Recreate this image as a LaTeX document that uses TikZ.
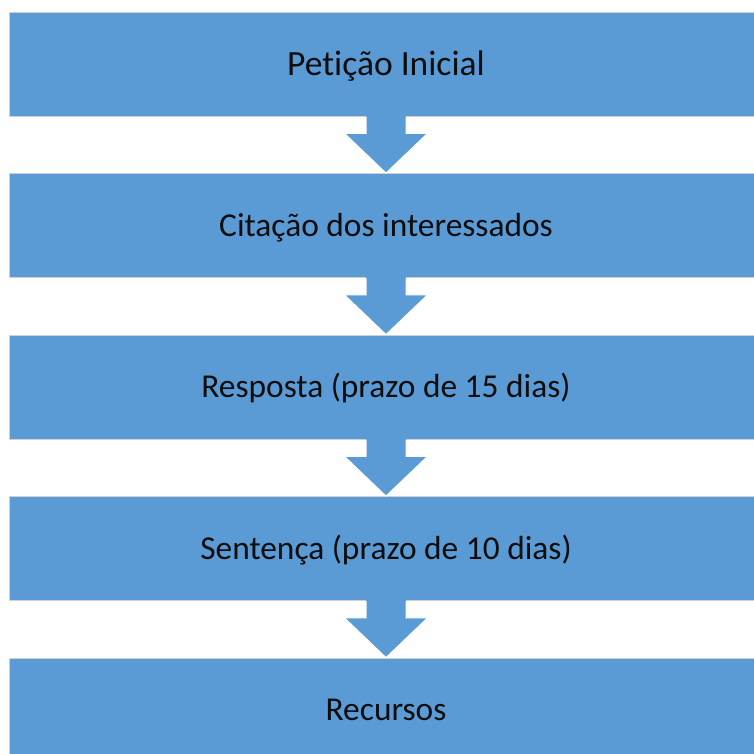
\documentclass[tikz,border=0pt]{standalone}
\usepackage{fontspec}
\setmainfont[Ligatures=NoCommon]{Carlito}
\usetikzlibrary{calc}
\definecolor{azul}{HTML}{5B9BD5}
\definecolor{borda}{HTML}{D0D0D0}
\tikzset{
  caixa/.style={rectangle, fill=azul, draw=borda, line width=0.8pt, inner sep=0pt,
    minimum width=754pt, minimum height=104pt, text=black!95,
    font=\fontsize{33.4pt}{40pt}\selectfont, text height=21.5pt, text depth=0pt},
  topo/.style={font=\fontsize{35.5pt}{42pt}\selectfont, text height=23pt},
  seta/.style={fill=azul},
  contorno/.style={draw=white, line width=1pt, line join=miter}
}
\begin{document}
\begin{tikzpicture}[x=1pt, y=-1pt, node distance=161.5pt]
  \useasboundingbox[fill=white] (0,0) rectangle (754,754);
  % Caixas
  \node[caixa, topo] (0) at (386,64) {Petição Inicial};
  \node[caixa] (1) [below of=0] {Citação dos interessados};
  \node[caixa] (2) [below of=1] {Resposta (prazo de 15 dias)};
  \node[caixa] (3) [below of=2] {Sentença (prazo de 10 dias)};
  \node[caixa] (4) [below of=3] {Recursos};

  % Setas
  \foreach \a/\b in {0/1, 1/2, 2/3, 3/4} {
    \fill[seta] ($(\a.south)+(-20,-2)$) -- ($(\a.south)+(-20,17)$) -- ($(\a.south)+(-41.5,17)$)
      -- (\b.north) -- ($(\a.south)+(41.5,17)$) -- ($(\a.south)+(20,17)$) -- ($(\a.south)+(20,-2)$) -- cycle;
    \draw[contorno] ($(\a.south)+(-20,0.5)$) -- ($(\a.south)+(-20,17)$) -- ($(\a.south)+(-41.5,17)$)
      -- (\b.north) -- ($(\a.south)+(41.5,17)$) -- ($(\a.south)+(20,17)$) -- ($(\a.south)+(20,0.5)$);
  }
\end{tikzpicture}
\end{document}
